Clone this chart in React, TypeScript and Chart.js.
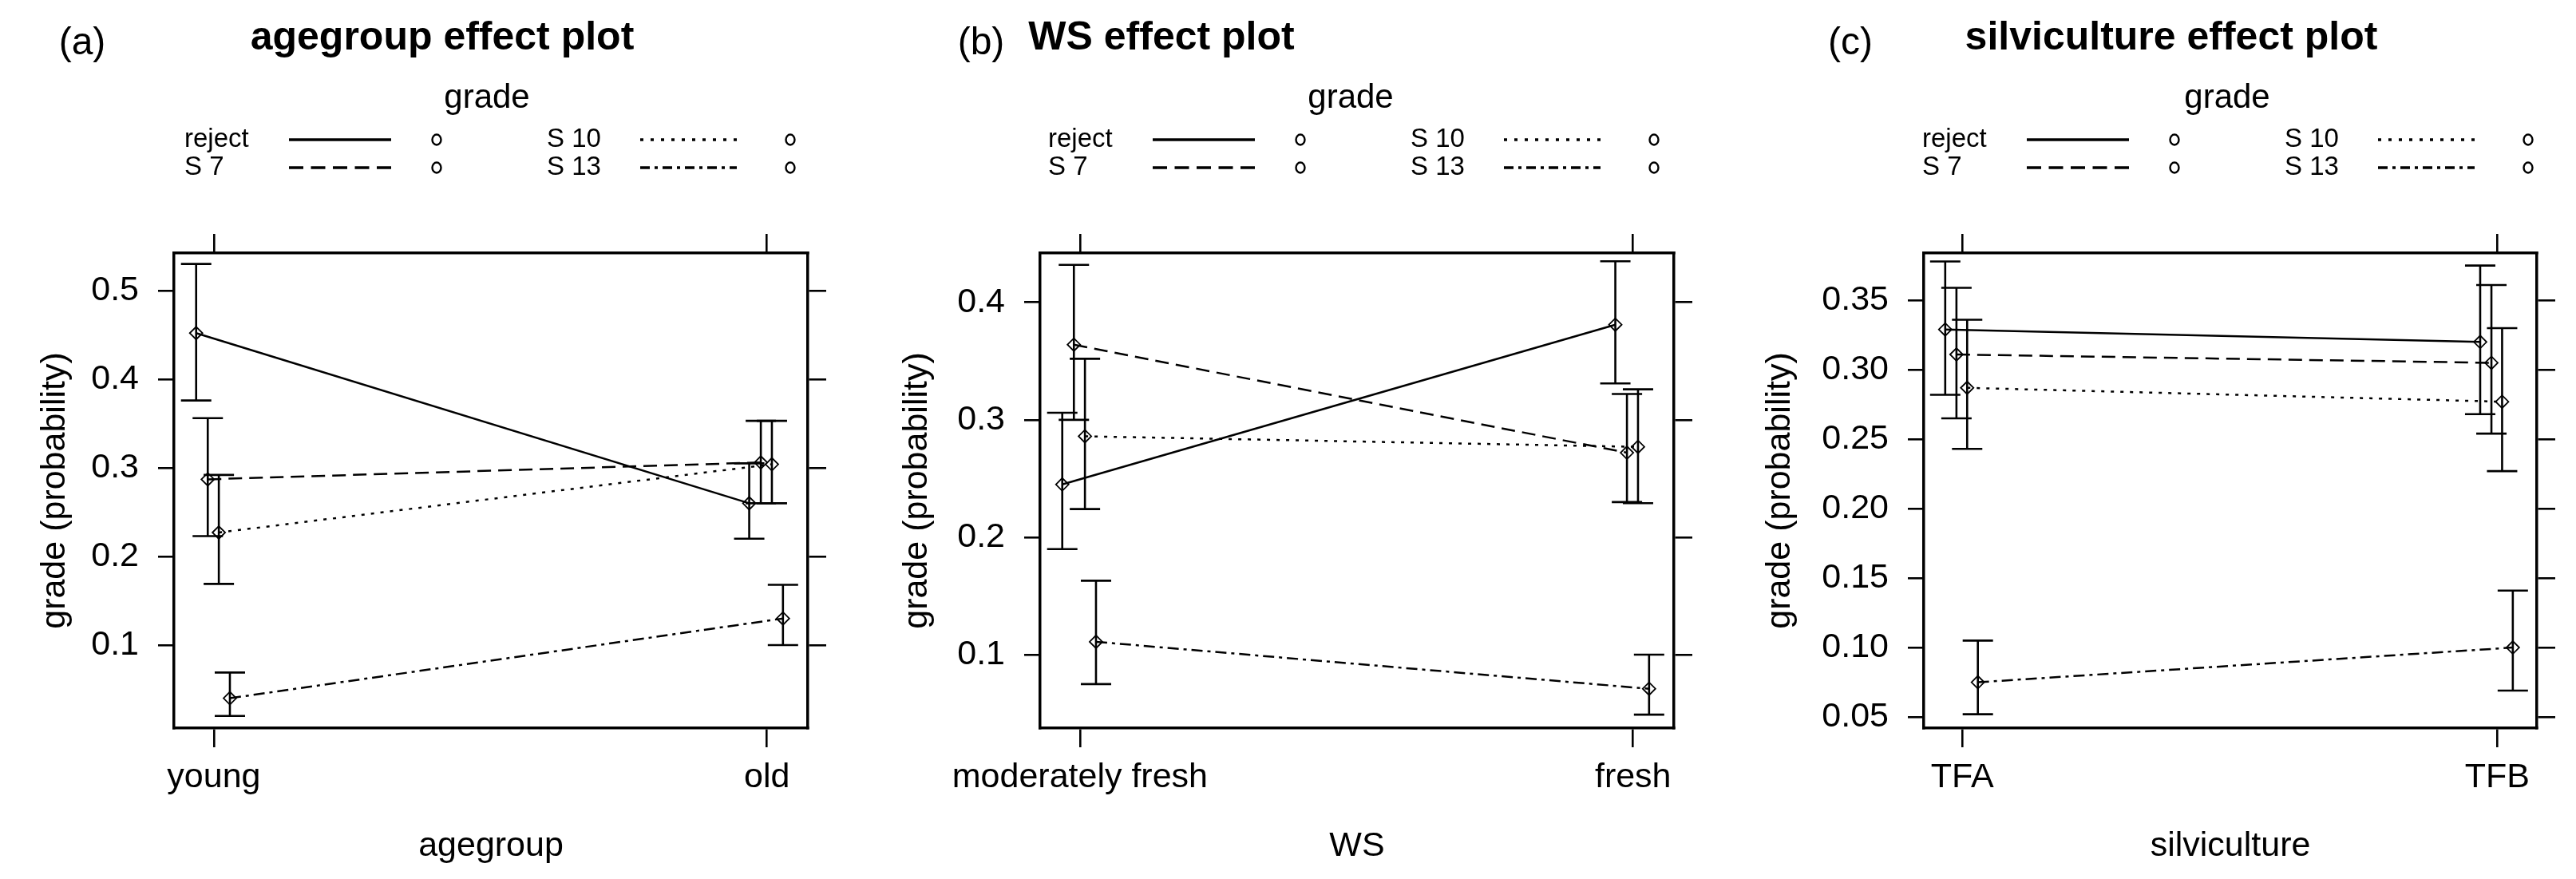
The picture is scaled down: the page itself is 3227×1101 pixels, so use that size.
import React, { useEffect, useRef } from 'react';
import { Chart, registerables } from 'chart.js';
Chart.register(...registerables);

// ---------- data ----------
const seriesNames = ['reject', 'S 7', 'S 10', 'S 13'];

// (a) agegroup
const ageCategories = ['young', 'old'];
const ageReject = [0.452, 0.26];
const ageRejectLo = [0.376, 0.22];
const ageRejectHi = [0.53, 0.305];
const ageS7 = [0.287, 0.306];
const ageS7Lo = [0.223, 0.26];
const ageS7Hi = [0.356, 0.353];
const ageS10 = [0.227, 0.304];
const ageS10Lo = [0.169, 0.26];
const ageS10Hi = [0.292, 0.353];
const ageS13 = [0.04, 0.13];
const ageS13Lo = [0.02, 0.1];
const ageS13Hi = [0.069, 0.168];
const ageYTicks = [0.1, 0.2, 0.3, 0.4, 0.5];

// (b) WS
const wsCategories = ['moderately fresh', 'fresh'];
const wsReject = [0.245, 0.381];
const wsRejectLo = [0.19, 0.331];
const wsRejectHi = [0.306, 0.435];
const wsS7 = [0.364, 0.272];
const wsS7Lo = [0.3, 0.23];
const wsS7Hi = [0.432, 0.322];
const wsS10 = [0.286, 0.277];
const wsS10Lo = [0.224, 0.229];
const wsS10Hi = [0.352, 0.326];
const wsS13 = [0.111, 0.071];
const wsS13Lo = [0.075, 0.049];
const wsS13Hi = [0.163, 0.1];
const wsYTicks = [0.1, 0.2, 0.3, 0.4];

// (c) silviculture
const silvCategories = ['TFA', 'TFB'];
const silvReject = [0.329, 0.32];
const silvRejectLo = [0.282, 0.268];
const silvRejectHi = [0.378, 0.375];
const silvS7 = [0.311, 0.305];
const silvS7Lo = [0.265, 0.254];
const silvS7Hi = [0.359, 0.361];
const silvS10 = [0.287, 0.277];
const silvS10Lo = [0.243, 0.227];
const silvS10Hi = [0.336, 0.33];
const silvS13 = [0.075, 0.1];
const silvS13Lo = [0.052, 0.069];
const silvS13Hi = [0.105, 0.141];
const silvYTicks = [0.05, 0.1, 0.15, 0.2, 0.25, 0.3, 0.35];

// ---------- styles ----------
const FONT = '"Liberation Sans", Arial, sans-serif';
const seriesOffset = [-0.032, -0.011, 0.009, 0.029];
const plotDash = [[], [17, 9], [4, 8], [14, 6, 4, 6]];
const legendDash = [[], [18, 9.5], [4, 9], [12, 6, 4, 6]];

type Panel = {
  tag: string; title: string; xTitle: string; cats: string[];
  fits: number[][]; lows: number[][]; highs: number[][];
  yTicks: number[]; decimals: number; yMin: number; yMax: number;
  x0: number; w: number; boxL: number; boxR: number;
  tagX: number; titleX: number; gradeX: number; legendX: number; yTitlePad: number;
};

const panels: Panel[] = [
  {
    tag: '(a)', title: 'agegroup effect plot', xTitle: 'agegroup', cats: ageCategories,
    fits: [ageReject, ageS7, ageS10, ageS13],
    lows: [ageRejectLo, ageS7Lo, ageS10Lo, ageS13Lo],
    highs: [ageRejectHi, ageS7Hi, ageS10Hi, ageS13Hi],
    yTicks: ageYTicks, decimals: 1, yMin: 0.0063, yMax: 0.5423,
    x0: 0, w: 1080, boxL: 218, boxR: 1012,
    tagX: 103, titleX: 554, gradeX: 610, legendX: 231, yTitlePad: 43,
  },
  {
    tag: '(b)', title: 'WS effect plot', xTitle: 'WS', cats: wsCategories,
    fits: [wsReject, wsS7, wsS10, wsS13],
    lows: [wsRejectLo, wsS7Lo, wsS10Lo, wsS13Lo],
    highs: [wsRejectHi, wsS7Hi, wsS10Hi, wsS13Hi],
    yTicks: wsYTicks, decimals: 1, yMin: 0.0375, yMax: 0.442,
    x0: 1080, w: 1080, boxL: 223, boxR: 1017,
    tagX: 149, titleX: 375, gradeX: 612, legendX: 233, yTitlePad: 43,
  },
  {
    tag: '(c)', title: 'silviculture effect plot', xTitle: 'silviculture', cats: silvCategories,
    fits: [silvReject, silvS7, silvS10, silvS13],
    lows: [silvRejectLo, silvS7Lo, silvS10Lo, silvS13Lo],
    highs: [silvRejectHi, silvS7Hi, silvS10Hi, silvS13Hi],
    yTicks: silvYTicks, decimals: 2, yMin: 0.042, yMax: 0.384,
    x0: 2160, w: 1067, boxL: 250, boxR: 1018,
    tagX: 158, titleX: 560, gradeX: 630, legendX: 248, yTitlePad: 44,
  },
];

const H = 1101;
const BOX_TOP = 317;
const BOX_BOTTOM = 912;
const X_MIN = -0.072;
const X_MAX = 1.074;

function PanelChart({ p }: { p: Panel }) {
  const ref = useRef<HTMLCanvasElement>(null);
  useEffect(() => {
    const canvas = ref.current!;
    const errorBars = {
      id: 'errorBars',
      afterDatasetsDraw(chart: any) {
        const { ctx } = chart;
        const xs = chart.scales.x, ys = chart.scales.y;
        ctx.save();
        ctx.strokeStyle = '#000';
        ctx.lineWidth = 2.6;
        ctx.setLineDash([]);
        chart.data.datasets.forEach((ds: any) => {
          ds.data.forEach((pt: any, i: number) => {
            const x = xs.getPixelForValue(pt.x);
            const y1 = ys.getPixelForValue(ds.lower[i]);
            const y2 = ys.getPixelForValue(ds.upper[i]);
            const cap = 19;
            ctx.beginPath();
            ctx.moveTo(x, y1); ctx.lineTo(x, y2);
            ctx.moveTo(x - cap, y1); ctx.lineTo(x + cap, y1);
            ctx.moveTo(x - cap, y2); ctx.lineTo(x + cap, y2);
            ctx.stroke();
          });
        });
        ctx.restore();
      },
    };
    const deco = {
      id: 'deco',
      afterDraw(chart: any) {
        const ctx = chart.ctx as CanvasRenderingContext2D;
        ctx.save();
        ctx.fillStyle = '#000';
        ctx.strokeStyle = '#000';
        ctx.textBaseline = 'middle';
        ctx.textAlign = 'center';
        ctx.font = `48px ${FONT}`;
        ctx.fillText(p.tag, p.tagX, 55);
        ctx.font = `bold 50px ${FONT}`;
        ctx.fillText(p.title, p.titleX, 48);
        ctx.font = `42px ${FONT}`;
        ctx.fillText('grade', p.gradeX, 123);
        // legend
        ctx.font = `33px ${FONT}`;
        ctx.textAlign = 'left';
        const colOff = [0, 454];
        const rows = [175, 210];
        seriesNames.forEach((name, i) => {
          const col = i === 0 || i === 1 ? 0 : 1;
          const row = i === 0 || i === 2 ? 0 : 1;
          const bx = p.legendX + colOff[col];
          const y = rows[row];
          ctx.fillText(name, bx, y);
          const l1 = bx + (col === 0 ? 131 : 117);
          const l2 = bx + (col === 0 ? 259 : 238);
          ctx.beginPath();
          ctx.lineWidth = 3.5;
          ctx.setLineDash(legendDash[i]);
          ctx.moveTo(l1, y); ctx.lineTo(l2, y);
          ctx.stroke();
          ctx.setLineDash([]);
          ctx.lineWidth = 2.4;
          ctx.beginPath();
          ctx.ellipse(bx + (col === 0 ? 316 : 305), y, 5.5, 6.5, 0, 0, Math.PI * 2);
          ctx.stroke();
        });
        ctx.restore();
      },
    };

    const datasets = seriesNames.map((name, si) => ({
      label: name,
      data: p.fits[si].map((v, ci) => ({ x: ci + seriesOffset[si], y: v })),
      lower: p.lows[si],
      upper: p.highs[si],
      borderColor: '#000',
      backgroundColor: 'rgba(0,0,0,0)',
      borderWidth: 2.5,
      borderDash: plotDash[si],
      pointStyle: 'rectRot',
      pointRadius: 8,
      pointBorderWidth: 1.8,
      pointBorderColor: '#000',
      pointBackgroundColor: 'rgba(0,0,0,0)',
      tension: 0,
      fill: false,
    }));

    const gridCommon = { drawOnChartArea: false, drawTicks: true, color: '#000', lineWidth: 2.6 };
    const borderCommon = { display: true, color: '#000', width: 3.5 };
    const catTicks = (s: any) => { s.ticks = p.cats.map((_, i) => ({ value: i })); };
    const yTicksFn = (s: any) => { s.ticks = p.yTicks.map((v) => ({ value: v })); };

    const chart = new Chart(canvas, {
      type: 'line',
      data: { datasets } as any,
      plugins: [errorBars, deco],
      options: {
        animation: false,
        responsive: false,
        devicePixelRatio: 1,
        layout: { padding: { top: BOX_TOP - 24, left: 0, right: p.w - p.boxR - 23, bottom: 0 } },
        plugins: { legend: { display: false }, tooltip: { enabled: false }, title: { display: false } },
        scales: {
          x: {
            type: 'linear', position: 'bottom', min: X_MIN, max: X_MAX,
            afterBuildTicks: catTicks,
            ticks: {
              callback: (_v: any, i: number) => p.cats[i],
              font: { family: FONT, size: 43 }, color: '#000', padding: 12, maxRotation: 0, autoSkip: false,
            },
            grid: { ...gridCommon, tickLength: 24 },
            border: borderCommon,
            title: { display: true, text: p.xTitle, font: { family: FONT, size: 43 }, color: '#000', padding: { top: 0, bottom: 15 } },
            afterFit: (s: any) => { s.height = H - BOX_BOTTOM; },
          },
          x2: {
            type: 'linear', position: 'top', min: X_MIN, max: X_MAX,
            afterBuildTicks: catTicks,
            ticks: { display: false },
            grid: { ...gridCommon, tickLength: 24 },
            border: borderCommon,
            afterFit: (s: any) => { s.height = 24; },
          },
          y: {
            type: 'linear', position: 'left', min: p.yMin, max: p.yMax,
            afterBuildTicks: yTicksFn,
            ticks: {
              callback: (v: any) => Number(v).toFixed(p.decimals),
              font: { family: FONT, size: 43 }, color: '#000', padding: 24,
            },
            grid: { ...gridCommon, tickLength: 20 },
            border: borderCommon,
            title: { display: true, text: 'grade (probability)', font: { family: FONT, size: 43 }, color: '#000', padding: { top: p.yTitlePad, bottom: 0 } },
            afterFit: (s: any) => { s.width = p.boxL; },
          },
          y2: {
            type: 'linear', position: 'right', min: p.yMin, max: p.yMax,
            afterBuildTicks: yTicksFn,
            ticks: { display: false },
            grid: { ...gridCommon, tickLength: 23 },
            border: borderCommon,
            afterFit: (s: any) => { s.width = 23; },
          },
        },
      } as any,
    });
    return () => chart.destroy();
  }, [p]);
  return (
    <canvas
      ref={ref}
      width={p.w}
      height={H}
      style={{ position: 'absolute', left: p.x0, top: 0, width: p.w, height: H }}
    />
  );
}

export default function App() {
  useEffect(() => {
    document.body.style.margin = '0';
    document.body.style.overflow = 'hidden';
  }, []);
  return (
    <div style={{ position: 'absolute', left: 0, top: 0, width: 3227, height: H, background: '#fff', overflow: 'hidden' }}>
      {panels.map((p) => (
        <PanelChart key={p.tag} p={p} />
      ))}
    </div>
  );
}
